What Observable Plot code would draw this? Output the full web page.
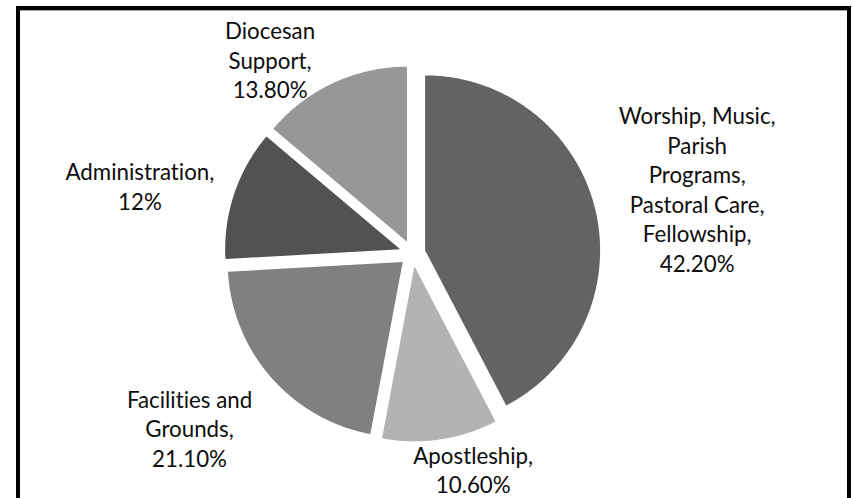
<!DOCTYPE html>
<html>
<head>
<meta charset="utf-8">
<script src="https://cdn.jsdelivr.net/npm/d3@7"></script>
<script src="https://cdn.jsdelivr.net/npm/@observablehq/plot@0.6"></script>
<style>
  html, body { margin: 0; padding: 0; background: #fff; width: 853px; height: 498px; overflow: hidden; }
  #wrap { position: relative; width: 853px; height: 498px; }
  #chart { position: absolute; left: 0; top: 0; }
  #chart text { font-variant-ligatures: none; font-feature-settings: "liga" 0; }
  #frame { position: absolute; left: 16px; top: 6px; width: 827px; height: 600px;
           border: 4px solid #000; border-bottom: none; box-shadow: inset 0 1px 0 #a8a8a8; pointer-events: none; }
</style>
</head>
<body>
<div id="wrap"><div id="chart"></div><div id="frame"></div></div>
<script>
// ---- data ----
const categories = [
  "Worship, Music, Parish Programs, Pastoral Care, Fellowship",
  "Apostleship",
  "Facilities and Grounds",
  "Administration",
  "Diocesan Support"
];
const labelNames = [
  "Worship, Music,\nParish\nPrograms,\nPastoral Care,\nFellowship,",
  "Apostleship,",
  "Facilities and\nGrounds,",
  "Administration,",
  "Diocesan\nSupport,"
];
const values = [42.2, 10.6, 21.1, 12, 13.8];
const valueLabels = ["42.20%", "10.60%", "21.10%", "12%", "13.80%"];
const colors = ["#636363", "#b3b3b3", "#808080", "#525252", "#979797"];

// ---- layout ----
const W = 853, H = 498;
const cx = 412, cy = 253, R = 175, explode = 13;
const labelDist = [279, 211, 270, 268, 228];
const labelNudgeDeg = [1.0, -7.7, 3.4, -4.7, -12.0];

const arcs = d3.pie().sort(null).value(d => d)(values);
const pts = [];
const labels = [];
arcs.forEach((a, i) => {
  const mid = (a.startAngle + a.endAngle) / 2;
  const ox = cx + explode * Math.sin(mid), oy = cy - explode * Math.cos(mid);
  pts.push({x: ox, y: oy, slice: categories[i], color: colors[i]});
  const n = Math.max(2, Math.ceil((a.endAngle - a.startAngle) / (Math.PI / 360)));
  for (let k = 0; k <= n; k++) {
    const t = a.startAngle + (a.endAngle - a.startAngle) * k / n;
    pts.push({x: ox + R * Math.sin(t), y: oy - R * Math.cos(t), slice: categories[i], color: colors[i]});
  }
  pts.push({x: ox, y: oy, slice: categories[i], color: colors[i]});
  const la = mid + labelNudgeDeg[i] * Math.PI / 180;
  labels.push({
    x: ox + labelDist[i] * Math.sin(la),
    y: oy - labelDist[i] * Math.cos(la),
    text: labelNames[i] + "\n" + valueLabels[i]
  });
});

const chart = Plot.plot({
  width: W, height: H,
  margin: 0,
  style: {background: "transparent"},
  x: {domain: [0, W], range: [0, W], axis: null},
  y: {domain: [0, H], range: [0, H], axis: null},
  marks: [
    Plot.line(pts, {x: "x", y: "y", z: "slice", fill: "color", stroke: "none", curve: "linear"}),
    Plot.text(labels, {x: "x", y: "y", text: "text", fontSize: 22.3, lineHeight: 1.32,
      fontFamily: "Lato", fill: "#0d0d0d", textAnchor: "middle", lineAnchor: "middle"})
  ]
});
document.getElementById("chart").appendChild(chart);
</script>
</body>
</html>
